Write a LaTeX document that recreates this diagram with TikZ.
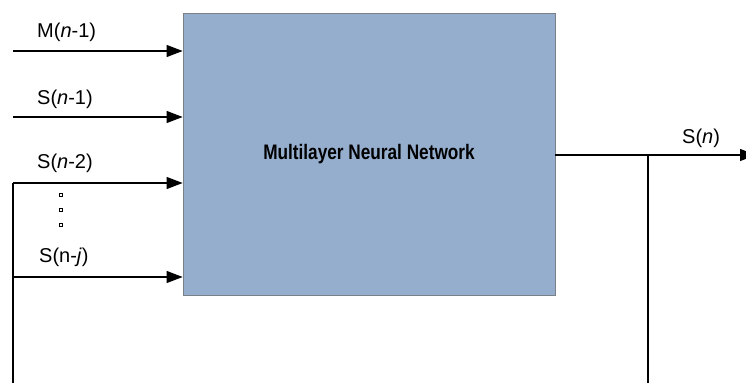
\documentclass[tikz,border=0pt]{standalone}
\usepackage{fontspec}
\setmainfont{Liberation Sans}
\usepackage{graphicx}
\usetikzlibrary{arrows.meta}
\definecolor{netfill}{HTML}{95AECE}
\definecolor{netedge}{HTML}{7A7F88}
\tikzset{
  wire/.style={line width=1.1pt, black},
  feed/.style={wire, -{Triangle[length=16pt,width=12pt]}},
  sig/.style={anchor=base west, inner sep=0pt, font=\fontsize{20}{24}\selectfont},
  dotsq/.style={draw, line width=0.9pt, minimum size=3.6pt, inner sep=0pt},
}
\begin{document}
\begin{tikzpicture}[x=1pt, y=-1pt]
  \clip (0,0) rectangle (746,385);
  \fill[white] (0,0) rectangle (746,385);

  % the network block
  \node[draw=netedge, fill=netfill, line width=0.8pt, minimum width=372pt, minimum height=282pt,
        inner sep=0pt, font=\fontsize{21}{24}\selectfont\bfseries] (nn) at (369,154)
        {\scalebox{0.82}[1]{Multilayer Neural Network}};

  % input wires
  \coordinate (m1) at (13,51);
  \coordinate (s1) at (13,117);
  \coordinate (s2) at (13,183);
  \coordinate (sj) at (13,277);
  \coordinate (lb) at (13,383);
  \draw[feed] (m1) -- (m1 -| nn.west);
  \draw[feed] (s1) -- (s1 -| nn.west);
  \draw[feed] (s2) -- (s2 -| nn.west);
  \draw[feed] (sj) -- (sj -| nn.west);
  \draw[wire] (s2) -- (lb);

  % output wire with its tap
  \coordinate (out) at (756,155);
  \coordinate (tap) at (648,155);
  \coordinate (rb) at (648,383);
  \draw[feed] (nn.east |- out) -- (out);
  \draw[wire] (tap) -- (rb);

  % signal labels
  \node[sig] (lm1) at (37,38) {M(\textit{n}-1)};
  \node[sig] (ls1) at (37,105) {S(\textit{n}-1)};
  \node[sig] (ls2) at (37,168) {S(\textit{n}-2)};
  \node[sig] (lsj) at (39,262) {S(n-\textit{j})};
  \node[sig] (ls)  at (682,143) {S(\textit{n})};

  % vertical ellipsis between the inputs
  \node[dotsq] (d1) at (61,195) {};
  \node[dotsq] (d2) at (61,210) {};
  \node[dotsq] (d3) at (61,225) {};
\end{tikzpicture}
\end{document}
